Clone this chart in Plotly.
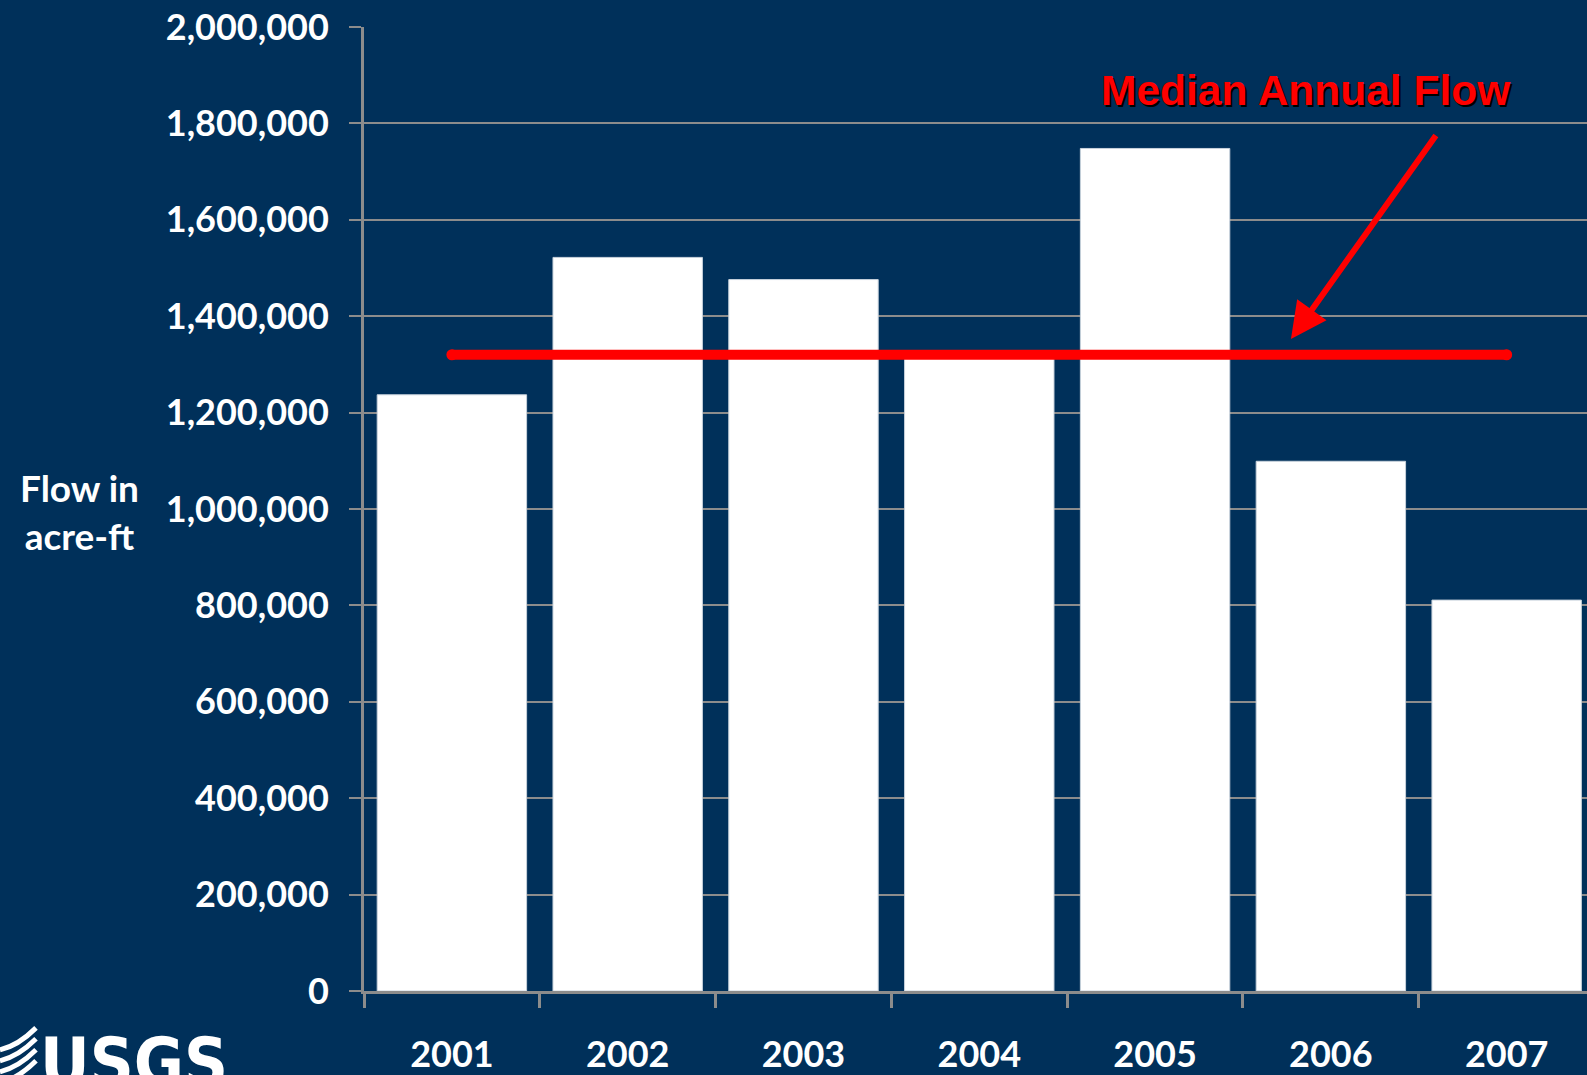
import plotly.graph_objects as go

# annual flow, acre-ft
years = ['2001', '2002', '2003', '2004', '2005', '2006', '2007']
flow = [1237000, 1522000, 1476000, 1320000, 1748000, 1099000, 811000]
median_flow = 1320000
y_ticks = [0, 200000, 400000, 600000, 800000, 1000000, 1200000, 1400000,
           1600000, 1800000, 2000000]

BG = '#00305A'
GRID = '#8C8C8C'
FONT = 'Lato'

W, H = 1587, 1075
L, T, B = 364, 27, 81


def px(x):
    return (x - L) / (W - L)


def py(y):
    return (H - B - y) / (H - B - T)


bars = go.Bar(x=years, y=flow, marker=dict(color='white', line=dict(color='#C8D2DC', width=1)),
              width=0.85, showlegend=False, hoverinfo='x+y')

# median line, round ends done with end markers
median_line = go.Scatter(x=[years[0], years[-1]], y=[median_flow, median_flow], mode='lines+markers',
                         line=dict(color='#FF0000', width=10),
                         marker=dict(color='#FF0000', size=11, symbol='circle', line=dict(width=0)),
                         showlegend=False, hoverinfo='skip')

fig = go.Figure(data=[bars, median_line])

fig.update_layout(
    width=W, height=H,
    margin=dict(l=L, r=0, t=T, b=B, pad=0),
    paper_bgcolor=BG, plot_bgcolor=BG,
    font=dict(family=FONT, color='white', size=36),
    bargap=0.15,
)

fig.update_xaxes(
    type='category', range=[-0.5, 6.457],
    showgrid=False, showline=True, linecolor=GRID, linewidth=3,
    ticks='outside', tickson='boundaries', ticklen=14, tickwidth=3, tickcolor=GRID,
    tickfont=dict(family=FONT, size=36, color='white', weight='bold'),
    ticklabelstandoff=30,
)

fig.update_yaxes(
    range=[0, 2000000], tickvals=y_ticks, tickformat=',d',
    showgrid=True, gridcolor=GRID, gridwidth=2,
    showline=True, linecolor=GRID, linewidth=3,
    ticks='outside', ticklen=12, tickwidth=2, tickcolor=GRID,
    tickfont=dict(family=FONT, size=36, color='white', weight='bold'),
    ticklabelstandoff=13, zeroline=False,
)

annotations = [
    # axis title
    dict(x=px(79), y=py(513), xref='paper', yref='paper', showarrow=False,
         xanchor='center', yanchor='middle',
         text='Flow in<br>acre-ft', align='center',
         font=dict(family=FONT, size=37, color='white', weight='bold')),
    # label shadow + label
    dict(x=px(1306), y=py(91), xref='paper', yref='paper', showarrow=False,
         xanchor='center', yanchor='middle',
         text='Median Annual Flow', xshift=2, yshift=-2,
         font=dict(family='Liberation Sans', size=42.5, color='black', weight='bold')),
    dict(x=px(1306), y=py(91), xref='paper', yref='paper', showarrow=False,
         xanchor='center', yanchor='middle',
         text='Median Annual Flow',
         font=dict(family='Liberation Sans', size=42.5, color='#FF0000', weight='bold')),
    # arrow pointing to median line
    dict(x=4.773, y=1352600, xref='x', yref='y', text='', showarrow=True,
         ax=146, ay=-205, arrowcolor='#FF0000', arrowwidth=6, arrowhead=2, arrowsize=1.2),
    # logo
    dict(x=px(38), y=py(1024), xref='paper', yref='paper', showarrow=False,
         xanchor='left', yanchor='top', text='USGS',
         font=dict(family='Liberation Sans Narrow, DejaVu Sans Condensed, Roboto Condensed, Liberation Sans',
                   size=68, color='white', weight='bold')),
]
fig.update_layout(annotations=annotations)

# wavy stripes of the logo
shapes = []
for k in range(4):
    y0 = 1045 + k * 11
    path = 'M {},{} Q {},{} {},{}'.format(px(0), py(y0 + 8), px(18), py(y0 + 4), px(36), py(y0 - 14))
    shapes.append(dict(type='path', xref='paper', yref='paper', path=path,
                       line=dict(color='white', width=5)))
fig.update_layout(shapes=shapes)

fig.write_html('out.html', config={'displayModeBar': False},
               post_script="document.body.style.margin='0px';")
